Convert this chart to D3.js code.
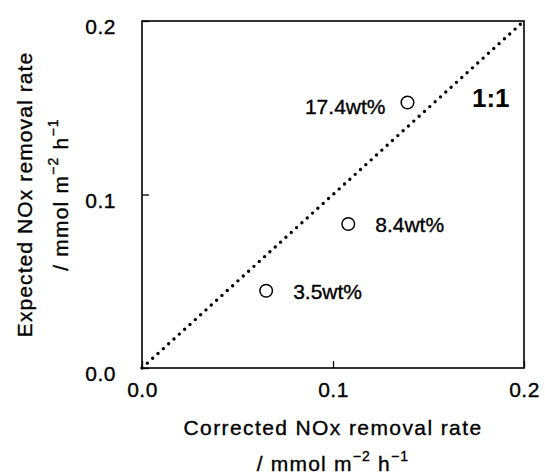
<!DOCTYPE html>
<html><head><meta charset="utf-8">
<script src="https://cdn.jsdelivr.net/npm/d3@7"></script>
<style>body{margin:0;background:#fff}text{font-family:"Liberation Sans",Arial,sans-serif;fill:#000;stroke:#000;stroke-width:0.35px}</style>
</head><body>
<script>
const labels = ["3.5wt%", "8.4wt%", "17.4wt%"];
const corrected = [0.065, 0.108, 0.139];
const expected = [0.0445, 0.083, 0.153];
const tickValues = [0.0, 0.1, 0.2];
const tickLabels = ["0.0", "0.1", "0.2"];
const oneToOne = [0, 0.2];

const W = 545, H = 476;
const m = {left: 142, right: 21, top: 21, bottom: 108};
const svg = d3.select("body").append("svg").attr("width", W).attr("height", H);
const x = d3.scaleLinear().domain([0, 0.2]).range([m.left, W - m.right]);
const y = d3.scaleLinear().domain([0, 0.2]).range([H - m.bottom, m.top]);
const FS = 21;

// frame
svg.append("rect").attr("x", x(0)).attr("y", y(0.2)).attr("width", x(0.2) - x(0)).attr("height", y(0) - y(0.2))
  .attr("fill", "none").attr("stroke", "#000").attr("stroke-width", 1.6);

// axes with inward ticks
const xAxis = d3.axisBottom(x).tickValues(tickValues).tickSize(-7).tickPadding(14).tickFormat((d, i) => tickLabels[i]);
const gx = svg.append("g").attr("transform", `translate(0,${y(0)})`).call(xAxis);
const yAxis = d3.axisLeft(y).tickValues(tickValues).tickSize(-7).tickPadding(26).tickFormat((d, i) => tickLabels[i]);
const gy = svg.append("g").attr("transform", `translate(${x(0)},0)`).call(yAxis);
[gx, gy].forEach(g => {
  g.attr("font-size", FS).attr("font-family", "Liberation Sans, Arial, sans-serif");
  g.select(".domain").remove();
  g.selectAll(".tick line").attr("stroke", "#000").attr("stroke-width", 1.3);
  g.selectAll(".tick text").attr("fill", "#000").attr("letter-spacing", 0.5);
});
gy.selectAll(".tick text").attr("dy", "0.6em");

// 1:1 dotted line
svg.append("line").attr("x1", x(oneToOne[0])).attr("y1", y(oneToOne[0])).attr("x2", x(oneToOne[1])).attr("y2", y(oneToOne[1]))
  .attr("stroke", "#000").attr("stroke-width", 3.4).attr("stroke-linecap", "round").attr("stroke-dasharray", "0 7.2");

svg.append("text").attr("x", 472).attr("y", 107).attr("font-size", 26).attr("font-weight", "bold").style("stroke-width", "0px").text("1:1");

// points
const data = labels.map((l, i) => ({l, cx: corrected[i], cy: expected[i]}));
svg.selectAll("circle.pt").data(data).enter().append("circle").attr("class", "pt")
  .attr("cx", d => x(d.cx)).attr("cy", d => y(d.cy)).attr("r", 6.3)
  .attr("fill", "#fff").attr("stroke", "#000").attr("stroke-width", 1.5);

// point labels
const lab = svg.selectAll("text.lab").data(data).enter().append("text").attr("class", "lab")
  .attr("font-size", FS).attr("y", d => y(d.cy) + 8);
lab.each(function(d) {
  const t = d3.select(this).text(d.l);
  if (d.l === "17.4wt%") t.attr("x", x(d.cx) - 22).attr("text-anchor", "end").attr("dy", 3);
  else t.attr("x", x(d.cx) + 27).attr("text-anchor", "start");
});

function unitLine(sel) {
  sel.append("tspan").text("/ mmol m");
  sel.append("tspan").attr("dy", -10).attr("font-size", 14).text("\u22122");
  sel.append("tspan").attr("dy", 10).text(" h");
  sel.append("tspan").attr("dy", -10).attr("font-size", 14).text("\u22121");
}

// x title
const cxm = (x(0) + x(0.2)) / 2;
svg.append("text").attr("x", cxm).attr("y", 435).attr("text-anchor", "middle").attr("font-size", FS)
  .attr("letter-spacing", 1.4).text("Corrected NOx removal rate");
const t2 = svg.append("text").attr("x", cxm).attr("y", 471).attr("text-anchor", "middle").attr("font-size", FS).attr("letter-spacing", 1.2);
unitLine(t2);

// y title
const cym = (y(0) + y(0.2)) / 2;
svg.append("text").attr("transform", `translate(32,${cym}) rotate(-90)`).attr("text-anchor", "middle").attr("font-size", FS)
  .attr("letter-spacing", 1.1).text("Expected NOx removal rate");
const t3 = svg.append("text").attr("transform", `translate(68,${cym}) rotate(-90)`).attr("text-anchor", "middle").attr("font-size", FS).attr("letter-spacing", 1.2);
unitLine(t3);
</script>
</body></html>
